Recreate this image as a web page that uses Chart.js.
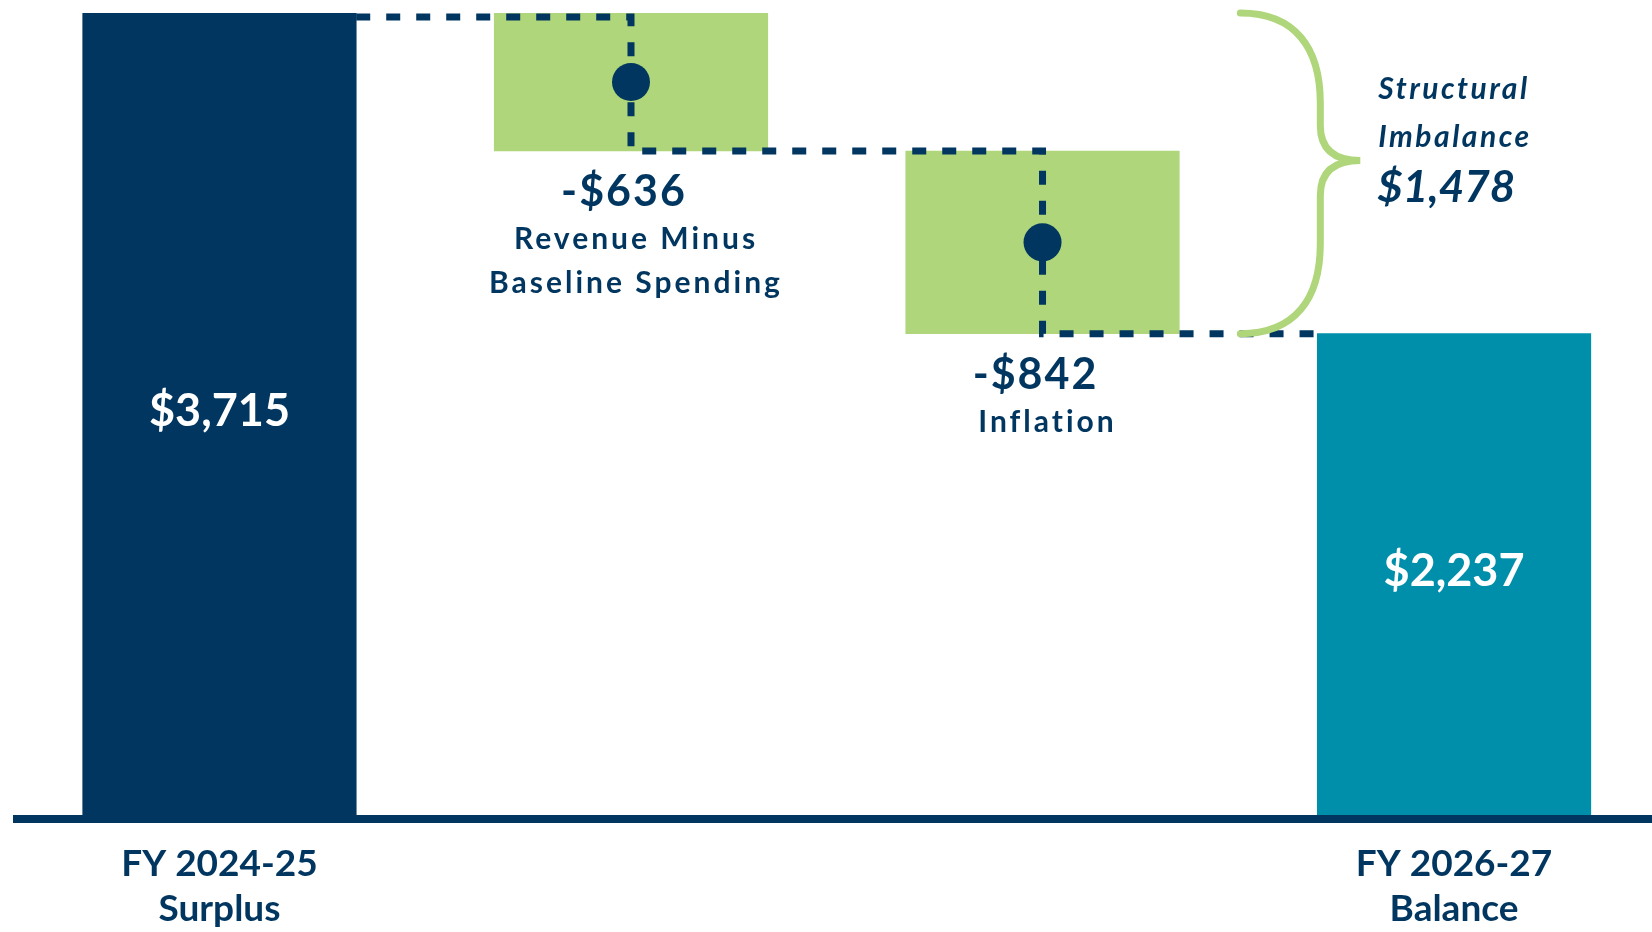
<!DOCTYPE html>
<html>
<head>
<meta charset="utf-8">
<script src="https://cdn.jsdelivr.net/npm/chart.js@4.4.1/dist/chart.umd.min.js"></script>
<style>
  html, body { margin: 0; padding: 0; background: #ffffff; overflow: hidden; }
  canvas { display: block; }
</style>
</head>
<body>
<canvas id="c" width="1652" height="932"></canvas>
<script>
// ---- data ----
const categories = ['FY 2024-25 Surplus', 'Revenue Minus Baseline Spending', 'Inflation', 'FY 2026-27 Balance'];
const amounts = [3715, -636, -842, 2237];
const isTotal = [true, false, false, true];
const amountLabels = ['$3,715', '-$636', '-$842', '$2,237'];
const tickLabels = [['FY 2024-25', 'Surplus'], null, null, ['FY 2026-27', 'Balance']];
const changeNames = [null, ['Revenue Minus', 'Baseline Spending'], ['Inflation'], null];
const imbalanceTitle = ['Structural', 'Imbalance'];
const imbalanceLabel = '$1,478';

// ---- styles ----
const NAVY = '#00365f';
const GREEN = '#afd67a';
const TEAL = '#008fab';
const barColors = [NAVY, GREEN, GREEN, TEAL];
const FONT = 'Lato, "Open Sans", sans-serif';

// waterfall ranges built from the amounts
let running = 0;
const ranges = amounts.map((v, i) => {
  if (isTotal[i]) { running = v; return [0, v]; }
  const r = [running, running + v];
  running += v;
  return r;
});
const barData = ranges.map((r, i) => ({ x: i, y: r }));
const dotData = ranges.map((r, i) => isTotal[i] ? null : { x: i, y: (r[0] + r[1]) / 2 }).filter(Boolean);

const annotations = {
  id: 'annotations',
  afterDatasetsDraw(chart) {
    const ctx = chart.ctx;
    const ys = chart.scales.y;
    const b = chart.getDatasetMeta(0).data.map(el => el.getProps(['x', 'y', 'base', 'width'], true));
    const n = b.length;

    ctx.save();
    // dashed connectors
    ctx.strokeStyle = NAVY;
    ctx.lineWidth = 7;
    ctx.lineCap = 'butt';
    ctx.setLineDash([14, 16]);
    ctx.beginPath();
    const yStart = ys.getPixelForValue(ranges[0][1]) + 4;
    ctx.moveTo(b[0].x + b[0].width / 2, yStart);
    let yCur = yStart;
    for (let i = 1; i < n; i++) {
      if (isTotal[i]) {
        ctx.lineTo(b[i].x - b[i].width / 2, yCur);
      } else {
        ctx.lineTo(b[i].x, yCur);
        yCur = ys.getPixelForValue(ranges[i][1]);
        ctx.lineTo(b[i].x, yCur);
      }
    }
    ctx.stroke();

    // brace
    const xr = b[n - 1].x - b[n - 1].width / 2;
    const yT = ys.getPixelForValue(ranges[0][1]);
    const yB = ys.getPixelForValue(ranges[n - 1][1]);
    const yM = yT + 0.46 * (yB - yT);
    const x0 = xr - 77, xa = xr + 3, xt = xr + 43;
    ctx.setLineDash([]);
    ctx.strokeStyle = GREEN;
    ctx.lineWidth = 7;
    ctx.lineCap = 'round';
    ctx.beginPath();
    ctx.moveTo(x0, yT);
    ctx.bezierCurveTo(x0 + 55, yT, xa, yT + 35, xa, yT + 90);
    ctx.lineTo(xa, yM - 35);
    ctx.bezierCurveTo(xa, yM - 8, xt - 22, yM, xt, yM);
    ctx.bezierCurveTo(xt - 22, yM, xa, yM + 8, xa, yM + 35);
    ctx.lineTo(xa, yB - 90);
    ctx.bezierCurveTo(xa, yB - 35, x0 + 55, yB, x0, yB);
    ctx.stroke();

    // texts
    ctx.textBaseline = 'alphabetic';
    for (let i = 0; i < n; i++) {
      const top = Math.min(b[i].y, b[i].base), bot = Math.max(b[i].y, b[i].base);
      if (isTotal[i]) {
        ctx.fillStyle = '#ffffff';
        ctx.textAlign = 'center';
        ctx.letterSpacing = '0px';
        ctx.font = `bold 45px ${FONT}`;
        ctx.fillText(amountLabels[i], b[i].x, (top + bot) / 2 + 10);
      } else {
        ctx.fillStyle = NAVY;
        ctx.textAlign = 'center';
        ctx.letterSpacing = '2px';
        ctx.font = `bold 43px ${FONT}`;
        const base = bot + 55;
        ctx.fillText(amountLabels[i], b[i].x - 7, base);
        ctx.letterSpacing = '3px';
        ctx.font = `bold 30px ${FONT}`;
        (changeNames[i] || []).forEach((t, k) => ctx.fillText(t, b[i].x + 5, base + 43 + 44 * k));
      }
    }
    ctx.fillStyle = NAVY;
    ctx.textAlign = 'left';
    ctx.letterSpacing = '2.5px';
    ctx.font = `italic bold 30px ${FONT}`;
    ctx.fillText(imbalanceTitle[0], xr + 61, yT + 86);
    ctx.fillText(imbalanceTitle[1], xr + 61, yT + 134);
    ctx.letterSpacing = '0px';
    ctx.font = `italic bold 44px ${FONT}`;
    ctx.fillText(imbalanceLabel, xr + 60, yT + 189);
    ctx.restore();
  }
};

new Chart(document.getElementById('c'), {
  type: 'bar',
  data: {
    datasets: [
      {
        type: 'bar',
        label: 'Budget',
        data: barData,
        backgroundColor: barColors,
        borderWidth: 0,
        barThickness: 273.5,
        order: 2
      },
      {
        type: 'scatter',
        label: 'Midpoints',
        data: dotData,
        pointRadius: 19,
        pointBackgroundColor: NAVY,
        pointBorderWidth: 0,
        showLine: false,
        order: 1
      }
    ]
  },
  options: {
    responsive: false,
    devicePixelRatio: 1,
    animation: false,
    layout: { autoPadding: false, padding: { left: 17, top: 13, right: 0, bottom: 0 } },
    plugins: { legend: { display: false }, tooltip: { enabled: false } },
    scales: {
      x: {
        type: 'linear',
        min: -0.492,
        max: 3.481,
        offset: false,
        grid: { display: false, drawTicks: false, offset: false },
        border: { display: true, color: NAVY, width: 8, z: 1 },
        afterBuildTicks: s => { s.ticks = tickLabels.map((t, i) => t ? { value: i } : null).filter(Boolean); },
        afterFit: s => { s.height = 113; },
        ticks: {
          autoSkip: false, maxRotation: 0, minRotation: 0, padding: 22,
          color: NAVY,
          font: { family: FONT, weight: 'bold', size: 37, lineHeight: 1.22 },
          callback: v => tickLabels[v] || ''
        }
      },
      y: { display: false, min: 0, max: 3715 }
    }
  },
  plugins: [annotations]
});
</script>
</body>
</html>
